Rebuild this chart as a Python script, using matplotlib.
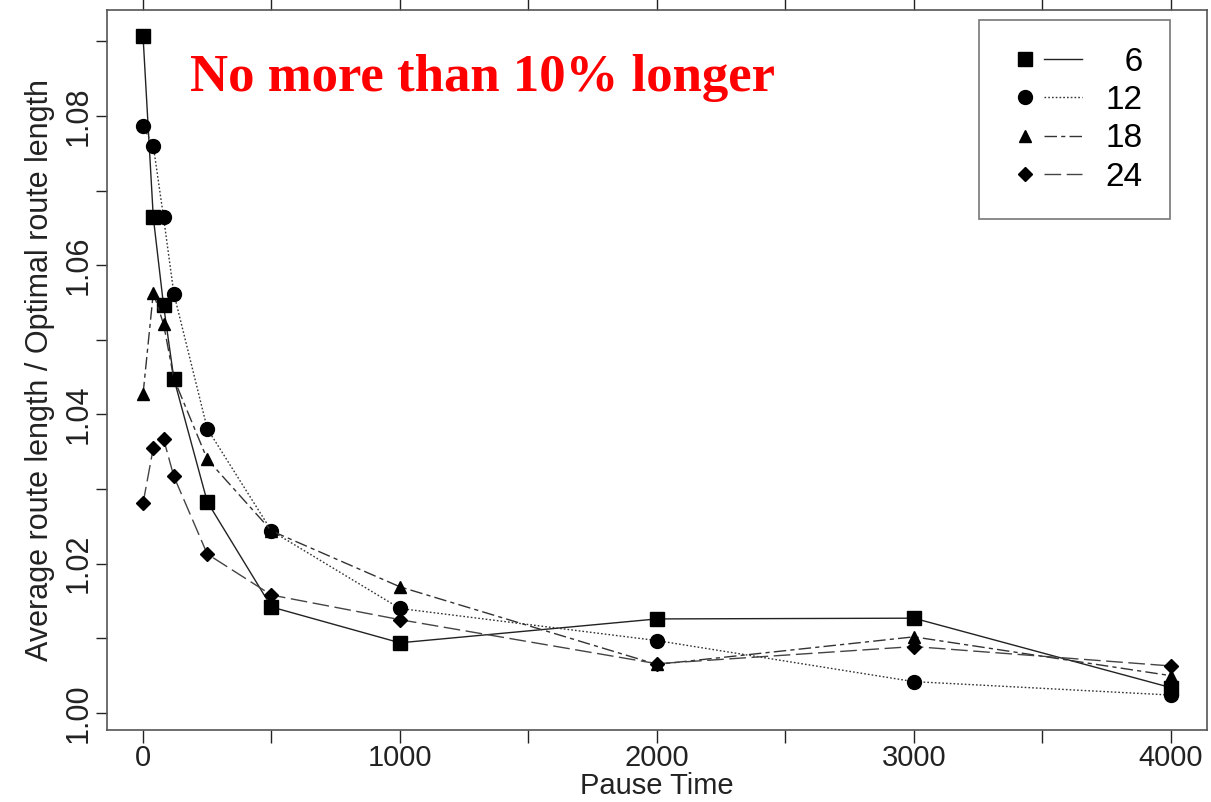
import matplotlib
matplotlib.use("Agg")
import matplotlib.pyplot as plt
from matplotlib.lines import Line2D
from matplotlib.legend_handler import HandlerTuple
from matplotlib.ticker import MultipleLocator

plt.rcParams['font.family'] = ['Liberation Sans', 'DejaVu Sans']

pause_time = [0, 40, 80, 120, 250, 500, 1000, 2000, 3000, 4000]

route_6 = [1.0907, 1.0664, 1.0546, 1.0448, 1.0283, 1.0142, 1.0094, 1.0126, 1.0127, 1.0034]
route_12 = [1.0786, 1.0760, 1.0664, 1.0562, 1.0381, 1.0244, 1.0140, 1.0097, 1.0042, 1.0024]
route_18 = [1.0427, 1.0563, 1.0521, 1.0448, 1.0340, 1.0244, 1.0169, 1.0065, 1.0102, 1.0050]
route_24 = [1.0281, 1.0355, 1.0367, 1.0317, 1.0213, 1.0158, 1.0125, 1.0066, 1.0089, 1.0063]

series_labels = ["6", "12", "18", "24"]

fig = plt.figure(figsize=(12.11, 8.02), dpi=100)
ax = fig.add_axes([0.0884, 0.0898, 0.9083, 0.8978])

styles = [
    (route_6, 's', '-', '#222222', 10),
    (route_12, 'o', (0, (1.2, 1.5)), '#333333', 10),
    (route_18, '^', (0, (9, 3, 3, 3)), '#333333', 9),
    (route_24, 'D', (0, (12, 4)), '#444444', 7),
]

handles = []
for (vals, mk, ls, col, ms) in styles:
    ax.plot(pause_time, vals, linestyle=ls, color=col, linewidth=1.0,
            marker=mk, markersize=ms, markerfacecolor='black',
            markeredgecolor='black')
    h_marker = Line2D([], [], linestyle='none', marker=mk, markersize=ms,
                      markerfacecolor='black', markeredgecolor='black')
    h_line = Line2D([], [], linestyle=ls, color=col, linewidth=1.0)
    handles.append((h_marker, h_line))

ax.set_xlim(-140, 4141)
ax.set_ylim(0.99772, 1.0942)

ax.xaxis.set_major_locator(MultipleLocator(1000))
ax.xaxis.set_minor_locator(MultipleLocator(500))
ax.yaxis.set_major_locator(MultipleLocator(0.02))
ax.yaxis.set_minor_locator(MultipleLocator(0.01))
ax.yaxis.set_major_formatter(plt.FormatStrFormatter('%.2f'))

ax.tick_params(axis='x', which='both', direction='out', length=9, width=1,
               top=True, labelsize=21, pad=1, colors='#222222')
ax.tick_params(axis='y', which='both', direction='out', length=8, width=1,
               labelsize=22, pad=2, colors='#222222')
for lab in ax.get_yticklabels():
    lab.set_rotation(90)
    lab.set_va('center')

for sp in ax.spines.values():
    sp.set_color('#555555')
    sp.set_linewidth(1.2)

ax.set_xlabel("Pause Time", fontsize=21, labelpad=0, color='#222222')
ax.set_ylabel("Average route length / Optimal route length", fontsize=22,
              labelpad=6, color='#222222')

labels_padded = ["\u2007" * (2 - len(s)) + s for s in series_labels]
leg = ax.legend(handles, labels_padded, handler_map={tuple: HandlerTuple(ndivide=2, pad=0.0)},
                loc='upper right', bbox_to_anchor=(0.966, 0.986), fontsize=24,
                handlelength=2.3, handletextpad=0.7, labelspacing=0.22,
                borderpad=0.8, borderaxespad=0, frameon=True, fancybox=False)
leg.get_frame().set_edgecolor('#555555')
leg.get_frame().set_linewidth(1.2)

ax.text(0.0755, 0.9056, "No more than 10% longer", transform=ax.transAxes,
        fontsize=38, fontweight='bold', color='#ff0000',
        family='Liberation Serif', va='center', ha='left')

fig.savefig("out.png", dpi=100)
